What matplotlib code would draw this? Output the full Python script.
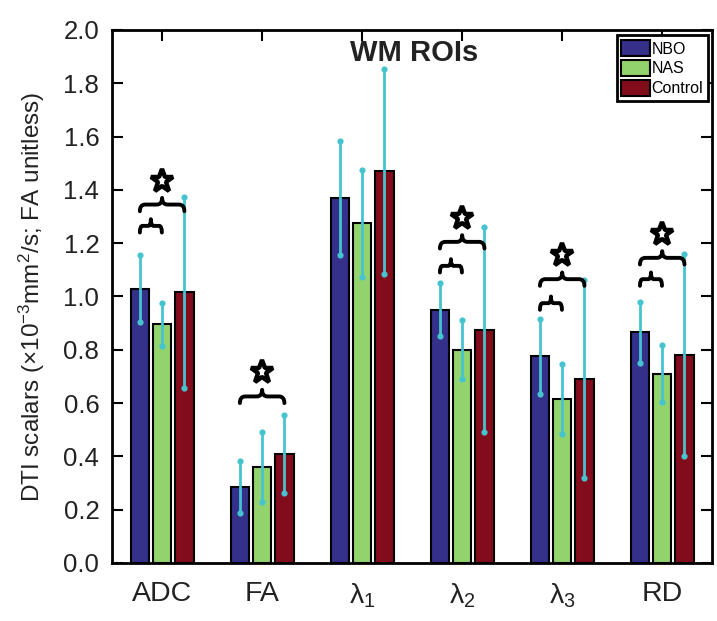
"""
WM ROIs DTI scalars bar chart with significance braces.
"""

import numpy as np
import matplotlib
matplotlib.use('Agg')
import matplotlib.pyplot as plt
from matplotlib.path import Path
from matplotlib.patches import PathPatch

plt.rcParams['font.family'] = ['Liberation Sans', 'DejaVu Sans']
plt.rcParams['mathtext.fontset'] = 'custom'
plt.rcParams['mathtext.rm'] = 'Liberation Sans'
plt.rcParams['mathtext.it'] = 'Liberation Sans:italic'
plt.rcParams['mathtext.bf'] = 'Liberation Sans:bold'

# data
groups = ['ADC', 'FA', 'λ$_1$', 'λ$_2$', 'λ$_3$', 'RD']
series = ['NBO', 'NAS', 'Control']
nbo = [1.03, 0.285, 1.37, 0.95, 0.775, 0.865]
nbo_err = [0.125, 0.097, 0.215, 0.10, 0.14, 0.116]
nas = [0.895, 0.36, 1.275, 0.80, 0.615, 0.71]
nas_err = [0.08, 0.13, 0.20, 0.11, 0.13, 0.107]
ctrl = [1.015, 0.41, 1.47, 0.875, 0.69, 0.78]
ctrl_err = [0.36, 0.147, 0.385, 0.385, 0.372, 0.378]
yticks = [0.0, 0.2, 0.4, 0.6, 0.8, 1.0, 1.2, 1.4, 1.6, 1.8, 2.0]

# significance braces: (group, first series, last series, base height)
big_braces = [(0, 0, 2, 1.32), (1, 0, 2, 0.60), (3, 0, 2, 1.18),
              (4, 0, 2, 1.04), (5, 0, 2, 1.12)]
small_braces = [(0, 0, 1, 1.24), (3, 0, 1, 1.09), (4, 0, 1, 0.95),
                (5, 0, 1, 1.04)]

colors = ['#35308a', '#92d36e', '#820c1c']
err_color = '#45c4d0'
offsets = [-0.22, 0.0, 0.225]
width = 0.185
brace_h = 0.05


def draw_brace(ax, x0, x1, y, h):
    """Horizontal curly brace, tip pointing up"""
    xm = (x0 + x1) / 2
    q = (x1 - x0) * 0.12
    ym = y + h / 2
    verts = [(x0, y), (x0, ym), (x0 + q, ym), (xm - q, ym), (xm, ym), (xm, y + h),
             (xm, ym), (xm + q, ym), (x1 - q, ym), (x1, ym), (x1, y)]
    codes = [Path.MOVETO, Path.CURVE3, Path.CURVE3, Path.LINETO, Path.CURVE3, Path.CURVE3,
             Path.CURVE3, Path.CURVE3, Path.LINETO, Path.CURVE3, Path.CURVE3]
    ax.add_patch(PathPatch(Path(verts, codes), fill=False, lw=2.8, color='black',
                           capstyle='round', joinstyle='round', zorder=4))


fig = plt.figure(figsize=(7.17, 6.21), dpi=100)
ax = fig.add_axes([0.156, 0.0934, 0.837, 0.8583])

x = np.arange(1, len(groups) + 1)
values = [nbo, nas, ctrl]
errors = [nbo_err, nas_err, ctrl_err]

for i in range(3):
    xs = x + offsets[i]
    ax.bar(xs, values[i], width=width, color=colors[i], edgecolor='black',
           linewidth=1.5, label=series[i], zorder=2)
    v = np.array(values[i])
    e = np.array(errors[i])
    ax.vlines(xs, v - e, v + e, color=err_color, lw=2, zorder=3)
    ax.scatter(np.concatenate([xs, xs]), np.concatenate([v - e, v + e]),
               s=20, color=err_color, zorder=3, linewidths=0)

for g, a, b, yb in big_braces + small_braces:
    draw_brace(ax, x[g] + offsets[a], x[g] + offsets[b], yb, brace_h)
for g, a, b, yb in big_braces:
    ax.plot(x[g] + (offsets[a] + offsets[b]) / 2, yb + brace_h + 0.065, marker='*',
            ms=17, mfc='white', mec='black', mew=3.2, zorder=5)

ax.set_xlim(0.5, 6.5)
ax.set_ylim(0, 2.0)
ax.set_xticks(x)
ax.set_xticklabels(groups, fontsize=20.5, color='#222222')
ax.set_yticks(yticks)
ax.set_yticklabels([f'{t:.1f}' for t in yticks], fontsize=18.5, color='#222222')

ax.tick_params(axis='y', direction='in', left=True, right=True, length=8, width=1.5, pad=9)
ax.tick_params(axis='x', direction='in', top=True, bottom=True, length=8, width=1.5, pad=13)
for t in ax.xaxis.get_major_ticks():
    t.tick1line.set_visible(False)
for s in ax.spines.values():
    s.set_linewidth(2)

ax.set_ylabel('DTI scalars (×10$^{-3}$mm$^{2}$/s; FA unitless)', fontsize=17.5,
              color='#222222')
ax.yaxis.set_label_coords(-0.108, 0.5)

ax.text(0.503, 0.957, 'WM ROIs', transform=ax.transAxes, ha='center', va='center',
        fontsize=21, fontweight='bold', color='#222222')

leg = ax.legend(loc='upper right', bbox_to_anchor=(0.993, 0.99), borderaxespad=0,
                fontsize=11.5, fancybox=False, framealpha=1, edgecolor='black',
                handlelength=1.8, handleheight=1.2, handletextpad=0.08,
                borderpad=0.3, labelspacing=0.2)
leg.get_frame().set_linewidth(2)

plt.savefig('out.png', dpi=100)
